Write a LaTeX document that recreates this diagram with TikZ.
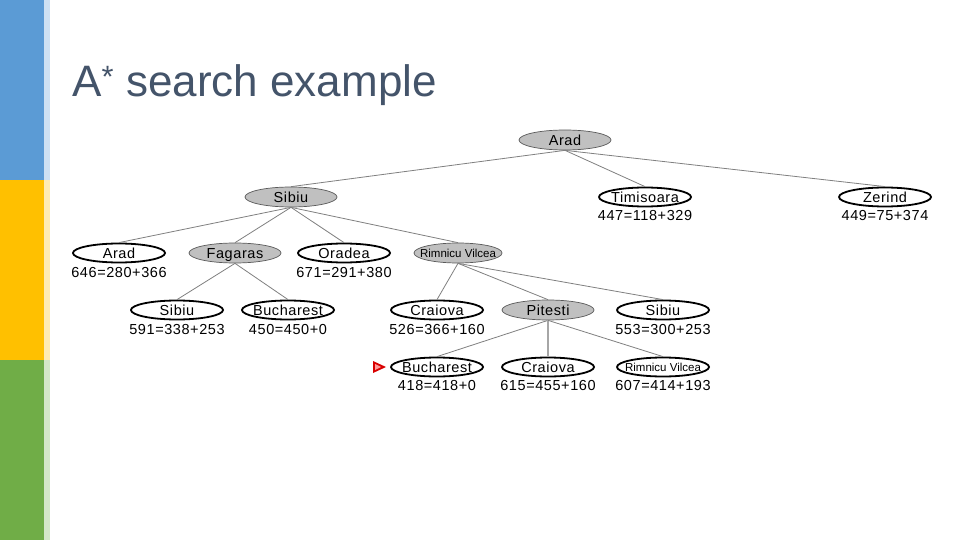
\documentclass[tikz,border=0pt]{standalone}
\usepackage{fontspec}
\setmainfont{Liberation Sans}
\newfontfamily\treefont[LetterSpace=4]{Liberation Sans}
\usetikzlibrary{shapes.geometric}
\definecolor{barblue}{HTML}{5B9BD5}
\definecolor{baryellow}{HTML}{FFC000}
\definecolor{bargreen}{HTML}{70AD47}
\definecolor{titlecol}{HTML}{44546A}
\definecolor{nodegray}{HTML}{C0C0C0}
\tikzset{
  nodebase/.style={ellipse, minimum width=92pt, inner xsep=-14pt, inner ysep=0pt, text height=10.5pt, text depth=0pt, font=\treefont\fontsize{14.5}{16}\selectfont},
  open/.style={nodebase, draw=black, line width=1.8pt, fill=white, minimum height=19pt},
  closed/.style={nodebase, draw=gray!70!black, line width=0.7pt, fill=nodegray, minimum height=20pt},
  small/.style={font=\fontsize{11.5}{13}\selectfont, text height=8.3pt},
  val/.style={font=\treefont\fontsize{14.5}{16}\selectfont, inner sep=0pt},
  edge/.style={draw=gray, line width=0.8pt},
}
\begin{document}
\begin{tikzpicture}[x=1pt,y=-1pt]
\useasboundingbox (0,0) rectangle (960,540);
\fill[white] (0,0) rectangle (960,540);
% side bars
\fill[barblue] (0,0) rectangle (44,180);
\fill[baryellow] (0,180) rectangle (44,360);
\fill[bargreen] (0,360) rectangle (44,540);
\fill[barblue!30] (44,0) rectangle (50,180);
\fill[baryellow!30] (44,180) rectangle (50,360);
\fill[bargreen!30] (44,360) rectangle (50,540);
% title
\node[anchor=base west, inner sep=0pt, text=titlecol, font=\fontsize{44}{50}\selectfont] (title) at (72,97) {A\textsuperscript{*} search example};
% nodes
\node[closed] (arad0) at (565,140) {Arad};
\node[closed] (sibiu1) at (291,197) {Sibiu};
\node[open] (timi) at (645,197) {Timisoara};
\node[open] (zer) at (885,197) {Zerind};
\node[open] (arad2) at (119,253) {Arad};
\node[closed] (fag) at (235,253) {Fagaras};
\node[open] (ora) at (344,253) {Oradea};
\node[closed, small, minimum width=88pt] (rv1) at (458,253) {Rimnicu Vilcea};
\node[open] (sibiu3) at (177,310) {Sibiu};
\node[open] (buch1) at (288,310) {Bucharest};
\node[open] (cra1) at (437,310) {Craiova};
\node[closed] (pit) at (548,310) {Pitesti};
\node[open] (sibiu4) at (663,310) {Sibiu};
\node[open] (buch2) at (437,367) {Bucharest};
\node[open] (cra2) at (548,367) {Craiova};
\node[open, small] (rv2) at (663,367) {Rimnicu Vilcea};
% edges
\draw[edge] (arad0.south) -- (sibiu1.north);
\draw[edge] (arad0.south) -- (timi.north);
\draw[edge] (arad0.south) -- (zer.north);
\draw[edge] (sibiu1.south) -- (arad2.north);
\draw[edge] (sibiu1.south) -- (fag.north);
\draw[edge] (sibiu1.south) -- (ora.north);
\draw[edge] (sibiu1.south) -- (rv1.north);
\draw[edge] (fag.south) -- (sibiu3.north);
\draw[edge] (fag.south) -- (buch1.north);
\draw[edge] (rv1.south) -- (cra1.north);
\draw[edge] (rv1.south) -- (pit.north);
\draw[edge] (rv1.south) -- (sibiu4.north);
\draw[edge] (pit.south) -- (buch2.north);
\draw[edge, line width=1.5pt, draw=gray!70] (pit.south) -- (cra2.north);
\draw[edge] (pit.south) -- (rv2.north);
% values
\node[val] (vtimi) at (645,216) {447=118+329};
\node[val] (vzer) at (885,216) {449=75+374};
\node[val] (varad2) at (119,273) {646=280+366};
\node[val] (vora) at (344,273) {671=291+380};
\node[val] (vsib3) at (177,330) {591=338+253};
\node[val] (vbuch1) at (288,330) {450=450+0};
\node[val] (vcra1) at (437,330) {526=366+160};
\node[val] (vsib4) at (663,330) {553=300+253};
\node[val] (vbuch2) at (437,386) {418=418+0};
\node[val] (vcra2) at (548,386) {615=455+160};
\node[val] (vrv2) at (663,386) {607=414+193};
% marker
\fill[red!85!black] (373,361) -- (386,367) -- (373,373) -- cycle;
\fill[red!40] (375,364) -- (381,367) -- (375,370) -- cycle;
\end{tikzpicture}
\end{document}
